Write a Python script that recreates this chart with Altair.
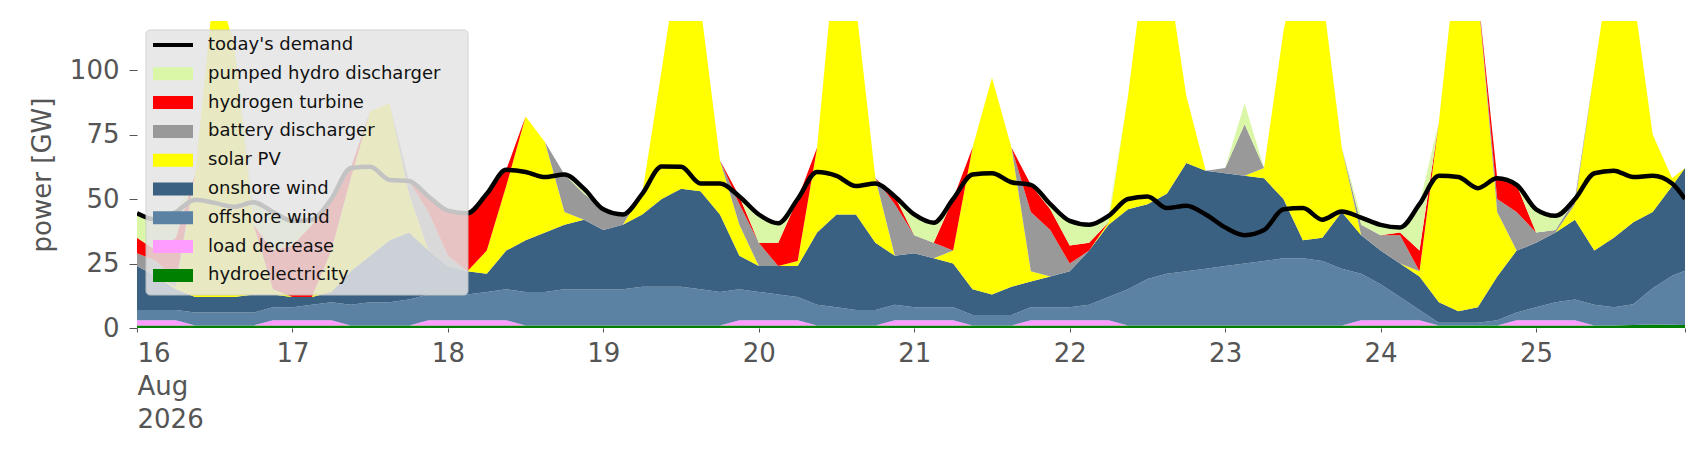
import numpy as np
import pandas as pd
import altair as alt

# time in days since 16 Aug 2026 00:00, 3-hourly + last hour
t = [d + h / 8 for d in range(10) for h in range(8)] + [9.958]

demand = [44.5, 42, 45, 49.7, 48.5, 47, 48.7, 45,
          41.5, 42, 50, 62, 62.5, 57.4, 57, 51,
          45.5, 44.5, 52, 61.3, 60.5, 58.5, 59.5, 54,
          46, 44, 52, 62.6, 62.5, 56, 56, 51,
          44, 40.6, 50, 60.5, 59, 55, 56, 51,
          44, 40.8, 50, 59.5, 60, 56.5, 55.5, 48,
          41.5, 40, 43.5, 50, 51, 46.5, 47.4, 44,
          39, 36, 38, 46, 46.5, 42, 45.2, 42.8,
          40, 39, 48, 59, 58.5, 54.2, 58, 55.5,
          46, 43.5, 50, 60, 61, 58.5, 59, 56, 50]

hydro = [1, 1, 1, 1, 1, 1, 1, 1,
         1, 1, 1, 1, 1, 1, 1, 1,
         1, 1, 1, 1, 1, 1, 1, 1,
         1, 1, 1, 1, 1, 1, 1, 1,
         1, 1, 1, 1, 1, 1, 1, 1,
         1, 1, 1, 1, 1, 1, 1, 1,
         1, 1, 1, 1, 1, 1, 1, 1,
         1, 1, 1, 1, 1, 1, 1, 1,
         1, 1, 1, 1, 1, 1, 1, 1,
         1, 1, 1, 1, 1, 1.2, 1.4, 1.3, 1.2]

load = [2, 2, 2, 0, 0, 0, 0, 2,
        2, 2, 2, 0, 0, 0, 0, 2,
        2, 2, 2, 2, 0, 0, 0, 0,
        0, 0, 0, 0, 0, 0, 0, 2,
        2, 2, 2, 0, 0, 0, 0, 2,
        2, 2, 2, 0, 0, 0, 2, 2,
        2, 2, 2, 0, 0, 0, 0, 0,
        0, 0, 0, 0, 0, 0, 0, 2,
        2, 2, 2, 0, 0, 0, 0, 2,
        2, 2, 2, 0, 0, 0, 0, 0, 0]

offshore = [4, 4, 4, 5, 5, 5, 5, 5,
            5, 6, 7, 8, 9, 9, 10, 10,
            10, 10, 11, 12, 13, 13, 14, 14,
            14, 14, 15, 15, 15, 14, 13, 12,
            11, 10, 9, 8, 7, 6, 6, 6,
            5, 5, 5, 4, 4, 4, 5, 5,
            5, 6, 9, 14, 18, 20, 21, 22,
            23, 24, 25, 26, 26, 25, 22, 18,
            14, 9, 4, 1, 1, 1, 2, 3,
            5, 7, 8, 8, 7, 8, 14, 19, 21]

# upper edges of the stacked layers above offshore wind
onshore_top = [24, 20, 15, 12, 12, 12, 13, 13,
               12, 12, 14, 22, 28, 34, 37, 30,
               24, 22, 21, 30, 34, 37, 40, 42,
               38, 40, 44, 50, 54, 53, 44, 28,
               24, 24, 24, 37, 44, 44, 33, 28,
               29, 27, 25, 15, 13, 16, 18, 20,
               22, 30, 40, 46, 48, 52, 64, 61,
               60, 59, 58, 50, 34, 35, 45, 36,
               30, 25, 20, 10, 6.5, 8, 20, 30,
               33, 37, 42, 30, 35, 41, 45, 55, 62]

solar_top = [24, 20, 16, 60, 135, 110, 40, 15,
             12, 12, 30, 58, 84, 87, 52, 30,
             24, 22, 30, 55, 82, 72, 45, 42,
             38, 40, 52, 100, 150, 125, 65, 40,
             24, 24, 26, 70, 150, 125, 58, 28,
             29, 27, 30, 70, 97, 70, 22, 20,
             22, 30, 41, 90, 150, 140, 90, 61,
             60, 59, 62, 115, 150, 130, 70, 36,
             30, 25, 22, 80, 150, 130, 45, 30,
             33, 37, 48, 100, 150, 130, 75, 58, 62]

battery_top = [29, 26, 18, 60, 135, 110, 40, 15,
               12, 12, 30, 58, 84, 87, 57, 45,
               28, 22, 30, 55, 82, 72, 59.5, 52,
               46, 44, 52, 100, 150, 125, 65, 48,
               33, 24, 26, 70, 150, 125, 58, 48,
               36, 33, 30, 70, 97, 70, 45, 38,
               25, 30, 41, 90, 150, 140, 90, 61,
               62, 79, 62, 115, 150, 130, 70, 40,
               36, 36, 22, 80, 150, 130, 50, 45,
               37, 38, 50, 100, 150, 130, 75, 58, 62]

hydrogen_top = [35, 30, 35, 60, 135, 110, 40, 30,
                32, 40, 50, 62, 84, 87, 57, 51,
                45.5, 44.5, 52, 61.3, 82, 72, 59.5, 52,
                46, 44, 52, 100, 150, 125, 65, 51,
                33, 33, 50, 70, 150, 125, 58, 51,
                36, 33, 50, 70, 97, 70, 55.5, 46,
                32, 33, 41, 90, 150, 140, 90, 61,
                62, 79, 62, 115, 150, 130, 70, 40,
                36, 37, 30, 80, 150, 130, 58, 55.5,
                37, 38, 50, 100, 150, 130, 75, 58, 62]

pumped_top = [44, 42, 45, 60, 135, 110, 48.7, 45,
              41, 42, 50, 62, 84, 87, 57, 51,
              45.5, 44.5, 52, 61.3, 82, 72, 59.5, 54,
              46, 44, 52, 100, 150, 125, 65, 51,
              44, 40.6, 50, 70, 150, 125, 58, 51,
              44, 41, 50, 70, 97, 70, 55.5, 48,
              41.5, 40, 43.5, 90, 150, 140, 90, 61,
              62, 87, 62, 115, 150, 130, 70, 43,
              40, 39, 48, 80, 150, 130, 58, 55.5,
              45, 44, 50, 100, 150, 130, 75, 58, 62]

names = ['hydroelectricity', 'load decrease', 'offshore wind', 'onshore wind', 'solar PV',
         'battery discharger', 'hydrogen turbine', 'pumped hydro discharger']
colors = ['#008000', '#ff9cff', '#5b82a3', '#3b6182', '#ffff00', '#999999', '#ff0000', '#daf7a8']

# turn the read upper edges into layer heights
base = np.array(hydro) + np.array(load) + np.array(offshore)
comps = [np.array(hydro, float), np.array(load, float), np.array(offshore, float)]
prev = base
for top in [onshore_top, solar_top, battery_top, hydrogen_top, pumped_top]:
    top = np.maximum(np.array(top, float), prev)
    comps.append(top - prev)
    prev = top

rows = []
for k, (n, c) in enumerate(zip(names, comps)):
    for ti, v in zip(t, c):
        rows.append({'t': ti, 'tech': n, 'value': v, 'ord': k})
df = pd.DataFrame(rows)
dem = pd.DataFrame({'t': t, 'demand': demand})

xs = alt.Scale(domain=[0, 9.958], nice=False, zero=False)
ys = alt.Scale(domain=[0, 119], nice=False)

xaxis = alt.Axis(values=list(range(10)) + [9.958], grid=False, domain=False, tickColor='#555555',
                 tickSize=4, labelFontSize=26, labelColor='#555555', labelPadding=8,
                 labelExpr="datum.value == 0 ? ['16', 'Aug', '2026'] : (datum.value < 9.5 ? '' + (16 + datum.value) : '')",
                 labelLineHeight=33, labelBaseline='top', title=None)
yaxis = alt.Axis(values=[0, 25, 50, 75, 100], grid=False, domain=False, tickColor='#555555',
                 tickSize=8, labelFontSize=26, labelColor='#555555', labelPadding=10,
                 title='power [GW]', titleFontSize=26, titleColor='#555555', titleFontWeight='normal',
                 titlePadding=14)

areas = alt.Chart(df).mark_area(interpolate='linear', clip=True).encode(
    x=alt.X('t:Q', scale=xs, axis=xaxis),
    y=alt.Y('value:Q', stack='zero', scale=ys, axis=yaxis),
    color=alt.Color('tech:N', scale=alt.Scale(domain=names, range=colors), legend=None),
    order=alt.Order('ord:Q')
)

line = alt.Chart(dem).mark_line(color='black', strokeWidth=4.5, interpolate='monotone', clip=True).encode(
    x=alt.X('t:Q', scale=xs),
    y=alt.Y('demand:Q', scale=ys)
)

# legend drawn by hand, in pixel space of the plot area
leg_labels = ["today's demand"] + names[::-1]
leg_colors = ['#000000'] + colors[::-1]
leg = pd.DataFrame({'label': leg_labels, 'color': leg_colors, 'row': range(9)})
leg['y'] = 24 + leg['row'] * 28.8
leg['y0'] = leg['y'] - (leg['row'] > 0) * 6.5 - (leg['row'] == 0) * 2
leg['y1'] = leg['y'] + (leg['row'] > 0) * 6.5 + (leg['row'] == 0) * 2

box = alt.Chart(pd.DataFrame({'a': [0]})).mark_rect(
    color='#e5e5e5', opacity=0.85, stroke='#cccccc', strokeWidth=1, cornerRadius=4
).encode(x=alt.value(9), x2=alt.value(331), y=alt.value(9), y2=alt.value(274))

sym = alt.Chart(leg).mark_rect().encode(
    x=alt.value(16), x2=alt.value(56),
    y=alt.Y('y0:Q', scale=None), y2='y1:Q',
    color=alt.Color('color:N', scale=None)
)
txt = alt.Chart(leg).mark_text(align='left', baseline='middle', fontSize=18, color='#111111').encode(
    x=alt.value(71), y=alt.Y('y:Q', scale=None), text='label:N'
)

chart = alt.layer(areas, line, box, sym, txt).properties(
    width=1548, height=307,
    autosize=alt.AutoSizeParams(type='none'),
    padding={'left': 129, 'top': 13, 'right': 13, 'bottom': 120}
).configure(font='DejaVu Sans').configure_view(stroke=None, strokeWidth=0)

chart.save('out.html', embed_options={'renderer': 'svg', 'actions': False})
